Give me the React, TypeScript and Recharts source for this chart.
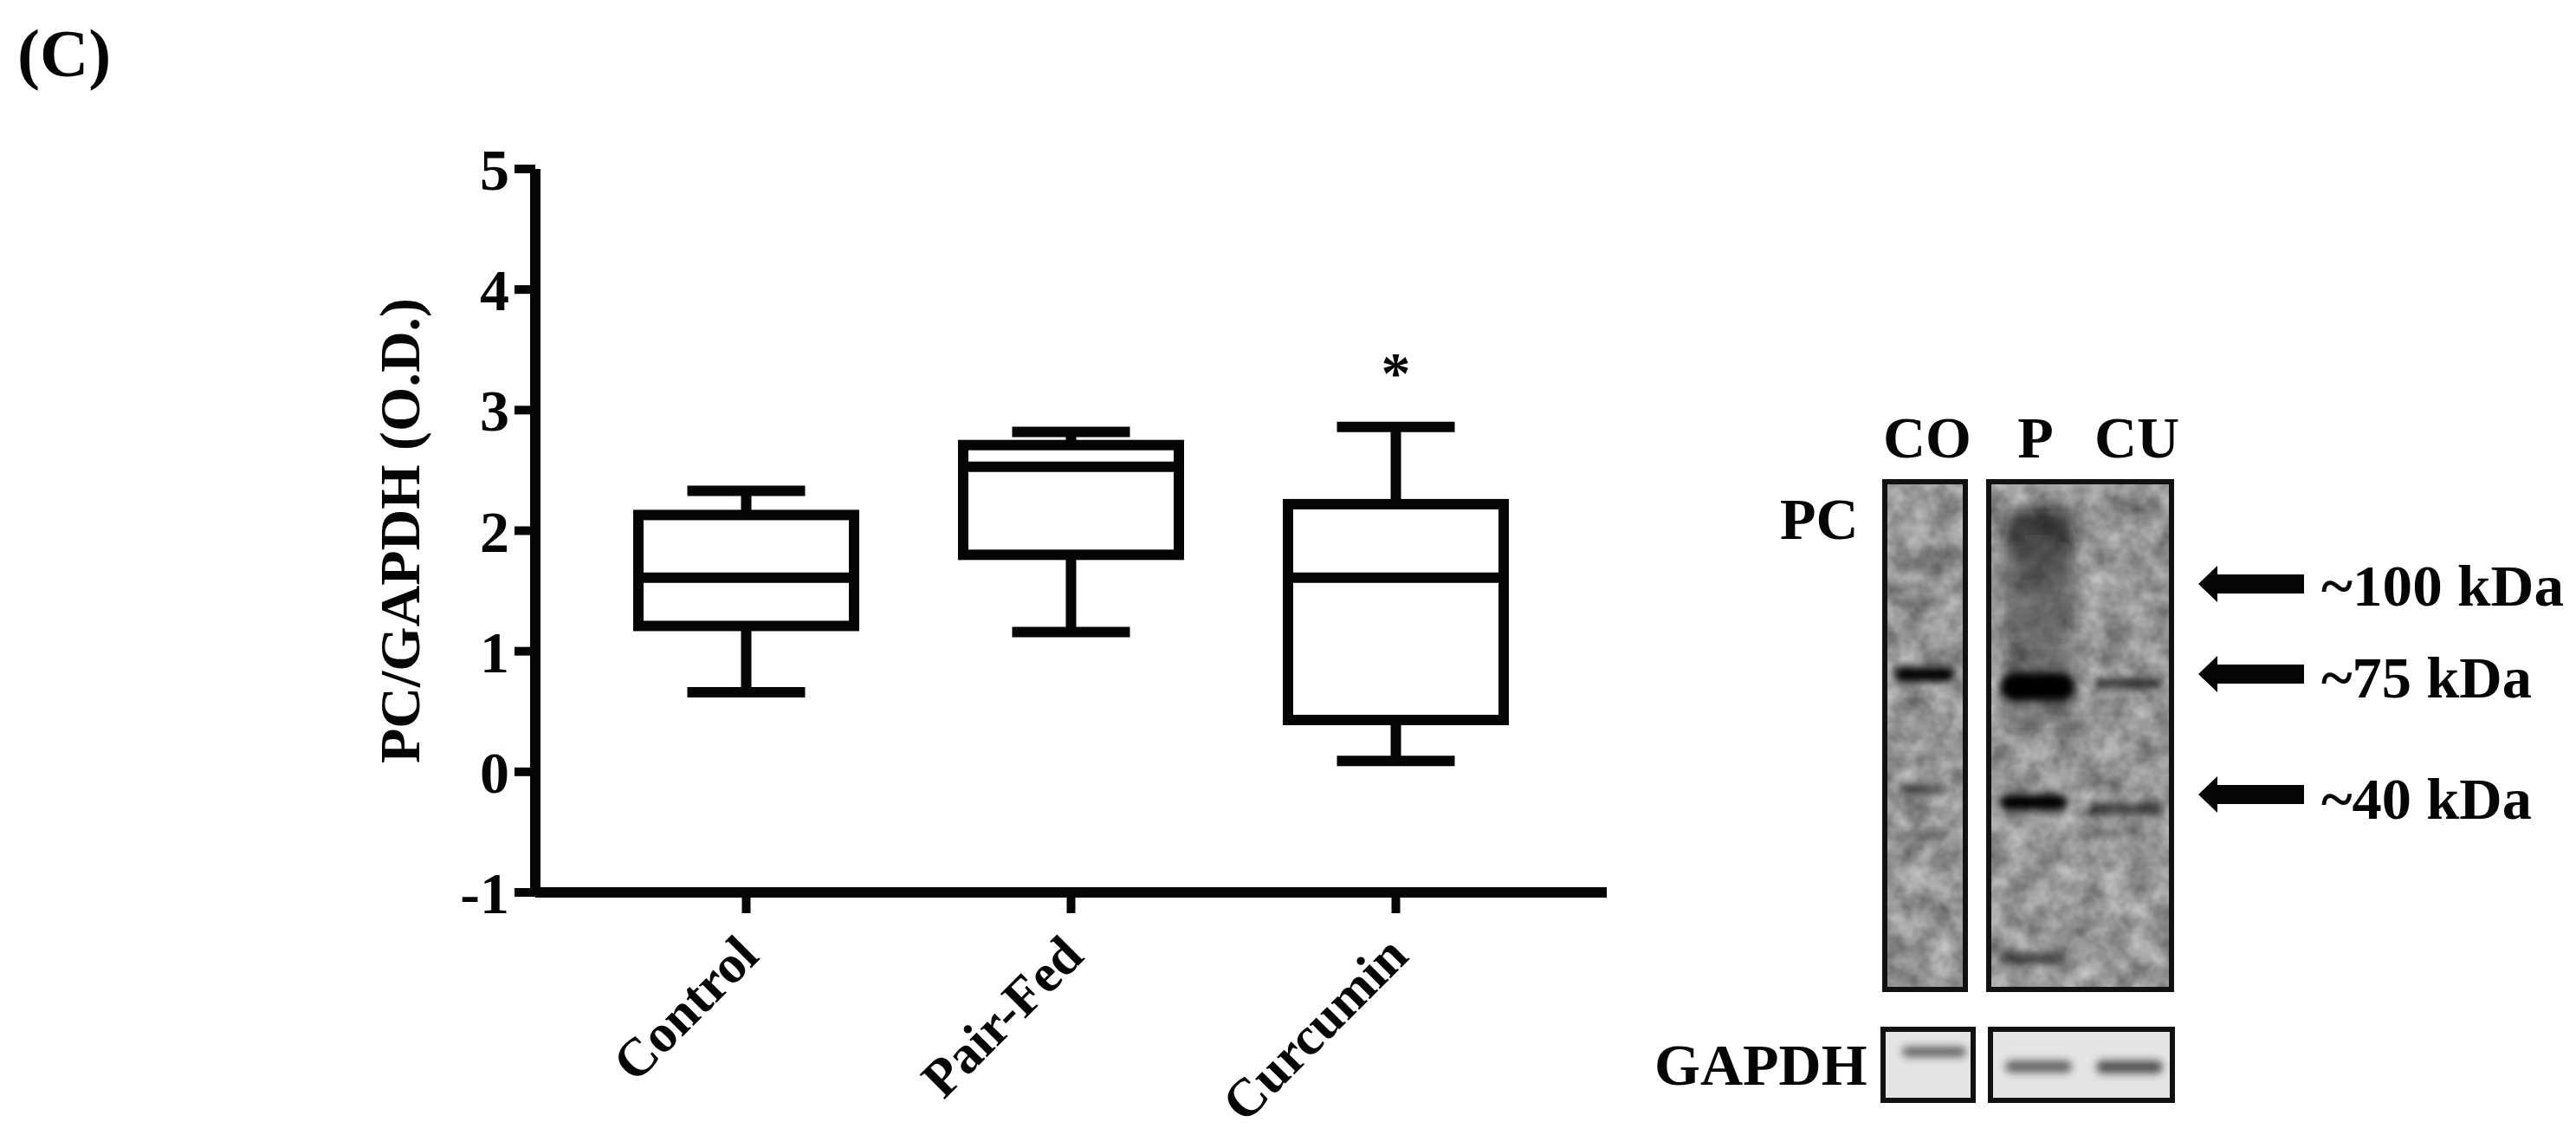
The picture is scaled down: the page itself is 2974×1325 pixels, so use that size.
import React from 'react';
import { ComposedChart, Bar, XAxis, YAxis, ReferenceDot } from 'recharts';

const FONT = '"Liberation Serif", serif';

const categories = ['Control', 'Pair-Fed', 'Curcumin'];
const lowValues = [0.66, 1.16, 0.09];
const q1Values = [1.21, 1.8, 0.43];
const medianValues = [1.61, 2.53, 1.61];
const q3Values = [2.13, 2.71, 2.22];
const highValues = [2.33, 2.82, 2.86];
const yTicks = [-1, 0, 1, 2, 3, 4, 5];

const data = categories.map((name, i) => ({
  name,
  low: lowValues[i],
  median: medianValues[i],
  high: highValues[i],
  box: [q1Values[i], q3Values[i]],
}));

// western blot photo, redrawn by hand: [x, y, width, height, opacity]
const lanePanels = [
  [2176, 556, 93, 586],
  [2296, 556, 211, 586],
];
const gapdhPanels = [
  [2174, 1188, 104, 82],
  [2298, 1188, 210, 82],
];
const pcBands = [
  [2187, 770, 70, 17, 1],
  [2190, 690, 62, 10, 0.35],
  [2190, 648, 56, 14, 0.2],
  [2190, 905, 58, 12, 0.45],
  [2190, 960, 56, 8, 0.35],
  [2190, 1092, 50, 8, 0.2],
  [2309, 776, 86, 33, 1],
  [2309, 917, 78, 18, 1],
  [2311, 1100, 72, 13, 0.55],
  [2419, 783, 78, 11, 0.7],
  [2413, 927, 83, 13, 0.65],
];
const gapdhBands = [
  [2196, 1208, 74, 12, 0.65],
  [2315, 1224, 77, 14, 0.65],
  [2420, 1224, 77, 15, 0.75],
];
const sizeMarkers = [
  { label: '~100 kDa', arrowY: 674, baseline: 699, length: 280 },
  { label: '~75 kDa', arrowY: 778, baseline: 805, length: 243 },
  { label: '~40 kDa', arrowY: 917, baseline: 945, length: 243 },
];
const laneLabels = [
  { label: 'CO', x: 2225 },
  { label: 'P', x: 2350 },
  { label: 'CU', x: 2467 },
];

const BoxShape = (props: any) => {
  const { x, y, width, height, payload } = props;
  const cx = x + width / 2;
  const [q1, q3] = payload.box;
  // pixels per unit, taken from the bar the y scale already placed
  const unit = height / (q3 - q1);
  const highY = y - (payload.high - q3) * unit;
  const lowY = y + height + (q1 - payload.low) * unit;
  const medianY = y + (q3 - payload.median) * unit;
  const cap = 68;
  return (
    <g stroke="#050505" strokeWidth={12} fill="none">
      <line x1={cx} x2={cx} y1={highY} y2={y} />
      <line x1={cx} x2={cx} y1={y + height} y2={lowY} />
      <line x1={cx - cap} x2={cx + cap} y1={highY} y2={highY} />
      <line x1={cx - cap} x2={cx + cap} y1={lowY} y2={lowY} />
      <rect x={x} y={y} width={width} height={height} fill="#fff" />
      <line x1={x} x2={x + width} y1={medianY} y2={medianY} />
    </g>
  );
};

const AngledTick = ({ x, y, payload }: any) => (
  <text
    x={x + 17}
    y={y + 50}
    transform={`rotate(-45 ${x + 17} ${y + 50})`}
    textAnchor="end"
    fontFamily={FONT}
    fontWeight="bold"
    fontSize={62}
    fill="#050505"
  >
    {payload.value}
  </text>
);

const Blot = () => (
  <svg width={2974} height={1325} style={{ position: 'absolute', left: 0, top: 0, pointerEvents: 'none' }}>
    <defs>
      <filter id="grain" x="0" y="0" width="100%" height="100%" colorInterpolationFilters="sRGB">
        <feTurbulence type="fractalNoise" baseFrequency="0.035" numOctaves={3} seed={7} />
        <feColorMatrix
          type="matrix"
          values="0.5 0 0 0 0.34  0.5 0 0 0 0.34  0.5 0 0 0 0.34  0 0 0 0 1"
        />
      </filter>
      <filter id="soft" x="-30%" y="-80%" width="160%" height="260%">
        <feGaussianBlur stdDeviation="5" />
      </filter>
      <filter id="softer" x="-30%" y="-30%" width="160%" height="160%">
        <feGaussianBlur stdDeviation="8" />
      </filter>
      <linearGradient id="smear" x1="0" y1="0" x2="0" y2="1">
        <stop offset="0" stopColor="#111" stopOpacity={0.8} />
        <stop offset="0.35" stopColor="#222" stopOpacity={0.45} />
        <stop offset="1" stopColor="#222" stopOpacity={0.25} />
      </linearGradient>
      <clipPath id="laneClip">
        {lanePanels.map(([x, y, w, h]) => (
          <rect key={x} x={x} y={y} width={w} height={h} />
        ))}
      </clipPath>
    </defs>

    <g clipPath="url(#laneClip)">
      <rect x={2170} y={550} width={345} height={600} filter="url(#grain)" />
      <rect x={2316} y={590} width={78} height={250} fill="url(#smear)" filter="url(#softer)" />
      {pcBands.map(([x, y, w, h, o], i) => (
        <rect key={i} x={x} y={y} width={w} height={h} rx={h / 2} fill="#000" opacity={o} filter="url(#soft)" />
      ))}
    </g>
    {lanePanels.map(([x, y, w, h]) => (
      <rect key={x} x={x} y={y} width={w} height={h} fill="none" stroke="#111" strokeWidth={6} />
    ))}

    {gapdhPanels.map(([x, y, w, h]) => (
      <rect key={x} x={x} y={y} width={w} height={h} fill="#e4e4e4" stroke="#111" strokeWidth={6} />
    ))}
    {gapdhBands.map(([x, y, w, h, o], i) => (
      <rect key={i} x={x} y={y} width={w} height={h} rx={h / 2} fill="#222" opacity={o} filter="url(#soft)" />
    ))}

    <g fontFamily={FONT} fontWeight="bold" fontSize={68} fill="#050505">
      <text x={20} y={88} fontSize={78}>(C)</text>
      {laneLabels.map((l) => (
        <text key={l.label} x={l.x} y={528} textAnchor="middle">{l.label}</text>
      ))}
      <text x={2055} y={622}>PC</text>
      <text x={1910} y={1252}>GAPDH</text>
      {sizeMarkers.map((m) => (
        <g key={m.label}>
          <polygon
            points={`2538,${m.arrowY} 2560,${m.arrowY - 21} 2560,${m.arrowY - 11} 2660,${m.arrowY - 11} 2660,${m.arrowY + 11} 2560,${m.arrowY + 11} 2560,${m.arrowY + 21}`}
          />
          <text x={2680} y={m.baseline} textLength={m.length} lengthAdjust="spacingAndGlyphs">{m.label}</text>
        </g>
      ))}
    </g>
  </svg>
);

export default function App() {
  return (
    <div style={{ position: 'absolute', left: 0, top: 0, width: 2974, height: 1325, background: '#fff', overflow: 'hidden' }}>
      <ComposedChart
        width={2974}
        height={1325}
        data={data}
        margin={{ top: 195, right: 1119, bottom: 0, left: 500 }}
      >
        <XAxis
          dataKey="name"
          height={295}
          padding={{ left: 56, right: 56 }}
          axisLine={{ stroke: '#050505', strokeWidth: 12 }}
          tickLine={{ stroke: '#050505', strokeWidth: 10 }}
          tickSize={24}
          tick={<AngledTick />}
          interval={0}
        />
        <YAxis
          width={118}
          domain={[-1, 5]}
          ticks={yTicks}
          interval={0}
          axisLine={{ stroke: '#050505', strokeWidth: 12 }}
          tickLine={{ stroke: '#050505', strokeWidth: 10 }}
          tickSize={24}
          tickMargin={6}
          tick={{ fontFamily: FONT, fontWeight: 'bold', fontSize: 68, fill: '#050505' }}
          label={{
            value: 'PC/GAPDH (O.D.)',
            angle: -90,
            position: 'center',
            dx: -98,
            style: { fontFamily: FONT, fontWeight: 'bold', fontSize: 66, fill: '#050505', textAnchor: 'middle' },
          }}
        />
        <Bar dataKey="box" barSize={249} shape={<BoxShape />} isAnimationActive={false} />
        <ReferenceDot
          x="Curcumin"
          y={3.35}
          r={0}
          label={{ value: '*', position: 'center', dy: 4, style: { fontFamily: FONT, fontWeight: 'bold', fontSize: 68, fill: '#050505' } }}
        />
      </ComposedChart>
      <Blot />
    </div>
  );
}
